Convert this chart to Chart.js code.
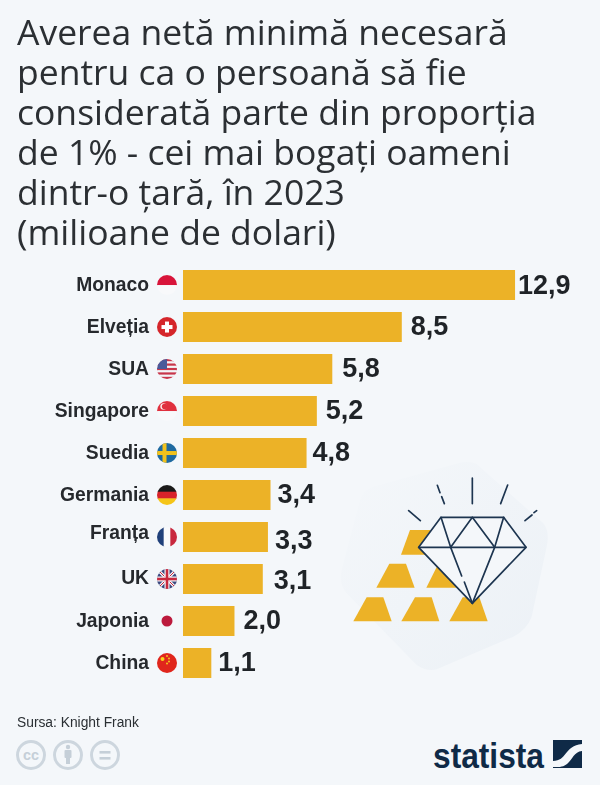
<!DOCTYPE html>
<html lang="ro"><head><meta charset="utf-8">
<style>
html,body{margin:0;padding:0;background:#f4f7fa;width:600px;height:785px;overflow:hidden;font-family:"Liberation Sans",Arial,sans-serif}
#art,#c{position:absolute;left:0;top:0}
#src{position:absolute;left:17px;top:715px;font-size:13.8px;color:#2a2f33}
</style></head><body>
<svg id="art" width="600" height="785" viewBox="0 0 600 785">
<defs><linearGradient id="b" x1="0" y1="0" x2="1" y2="1"><stop offset="0" stop-color="#f4f7fa"/><stop offset="1" stop-color="#ecf1f6"/></linearGradient></defs>
<g transform="translate(330 460) scale(.33333)">
<path d="M440 12 L640 190 Q660 215 650 260 L605 470 Q590 510 550 530 L320 628 Q290 635 260 615 L50 400 Q25 370 35 330 L90 120 Q100 90 130 80 L390 8 Q420 2 440 12Z" fill="url(#b)"/>
<g fill="#ecb227">
<path d="M70 484L110 412H160L185 484Z"/><path d="M214 484L255 412H305L328 484Z"/><path d="M358 484L398 412H448L473 484Z"/>
<path d="M139 383L178 311H228L254 383Z"/><path d="M289 383L325 311H375L400 383Z"/>
<path d="M213 284L240 210H300L325 284Z"/></g>
<path d="M333 172H521L588 262L427 430L266 262Z" fill="#f4f7fa"/>
<g fill="none" stroke="#1d3550" stroke-width="5" stroke-linejoin="round" stroke-linecap="round">
<path d="M333 172H521L588 262L427 430L266 262Z"/><path d="M266 262H588"/>
<path d="M333 172L362 262L395 348M403 366L427 430"/><path d="M521 172L494 262L427 430"/>
<path d="M427 172L362 262M427 172L494 262"/>
<path d="M427 54V131M322 76L330 98M335 110L343 131M533 75L512 131M236 152L271 182M585 182L606 165M612 158L620 152"/>
</g></g>
<g fill="none" stroke="#cdd6de" stroke-width="3"><circle cx="31" cy="755" r="13.5"/><circle cx="68" cy="755" r="13.5"/><circle cx="105" cy="755" r="13.5"/></g>
<text x="31" y="760" text-anchor="middle" font-size="15" font-weight="700" fill="#c5cfd8" font-family="Liberation Sans" textLength="16" lengthAdjust="spacingAndGlyphs">cc</text>
<g fill="#c5cfd8"><circle cx="68" cy="747" r="2.2"/><rect x="64.5" y="750" width="7" height="8" rx="1"/><rect x="66" y="757" width="4" height="7"/><rect x="99.5" y="751" width="11" height="2.6"/><rect x="99.5" y="757" width="11" height="2.6"/></g>
<text x="433" y="768" font-size="35" font-weight="700" fill="#0f2a47" font-family="Liberation Sans Narrow, Liberation Sans" textLength="111" lengthAdjust="spacingAndGlyphs">statista</text>
<rect x="553" y="740" width="29" height="28" fill="#0f2a47"/>
<path d="M553 761C567 761 564 746 582 744V751C571 752 572 767 558 767H553Z" fill="#f4f7fa"/>
</svg>
<canvas id="c" width="600" height="785"></canvas>
<div id="src">Sursa: Knight Frank</div>
<script src="https://cdn.jsdelivr.net/npm/chart.js@4"></script>
<script>
const countries=["Monaco","Elveția","SUA","Singapore","Suedia","Germania","Franța","UK","Japonia","China"];
const wealthThreshold=[12.9,8.5,5.8,5.2,4.8,3.4,3.3,3.1,2.0,1.1];
const titleLines=["Averea netă minimă necesară","pentru ca o persoană să fie","considerată parte din proporția","de 1% - cei mai bogați oameni","dintr-o țară, în 2023","(milioane de dolari)"];
const valueNudgeX=[-5,1,2,1,-2,-1,-1,3,1,-1];
const valueNudgeY=[0,0,0,0,0,0,4,2,0,0];
const labelNudgeY=[1,1,1,1,1,1,-3,0,1,1];

function band(ctx,x,y,r,cols,vert){
  const n=cols.length;
  cols.forEach((col,i)=>{ctx.fillStyle=col;
    if(vert)ctx.fillRect(x-r+2*r*i/n,y-r,2*r/n+.5,2*r);
    else ctx.fillRect(x-r,y-r+2*r*i/n,2*r,2*r/n+.5);});
}
const flags={
 Monaco(c,x,y,r){band(c,x,y,r,["#d8143a","#f8f9fb"]);},
 "Elveția"(c,x,y,r){c.fillStyle="#d5262b";c.fillRect(x-r,y-r,2*r,2*r);c.fillStyle="#fff";c.fillRect(x-5.5,y-2,11,4);c.fillRect(x-2,y-5.5,4,11);},
 SUA(c,x,y,r){const s=[];for(let i=0;i<9;i++)s.push(i%2?"#f3f4f7":"#c8354a");band(c,x,y,r,s);c.fillStyle="#4a5a9a";c.fillRect(x-r,y-r,r,r);},
 Singapore(c,x,y,r){band(c,x,y,r,["#e0303e","#f8f9fb"]);c.fillStyle="#fbe8e8";c.beginPath();c.arc(x-3.5,y-4.5,3.2,0,7);c.fill();c.fillStyle="#e0303e";c.beginPath();c.arc(x-2.3,y-4.5,2.8,0,7);c.fill();},
 Suedia(c,x,y,r){c.fillStyle="#1f6aa0";c.fillRect(x-r,y-r,2*r,2*r);c.fillStyle="#f2c21d";c.fillRect(x-r,y-2,2*r,4);c.fillRect(x-4.5,y-r,4,2*r);},
 Germania(c,x,y,r){band(c,x,y,r,["#1a1a1a","#d8232a","#f5c518"]);},
 "Franța"(c,x,y,r){band(c,x,y,r,["#20407a","#f8f9fb","#c8283e"],true);},
 UK(c,x,y,r){c.fillStyle="#3c4a80";c.fillRect(x-r,y-r,2*r,2*r);c.lineWidth=3;c.strokeStyle="#f4f5f8";c.beginPath();c.moveTo(x-r,y-r);c.lineTo(x+r,y+r);c.moveTo(x+r,y-r);c.lineTo(x-r,y+r);c.stroke();c.lineWidth=1;c.strokeStyle="#c8283e";c.stroke();c.fillStyle="#f4f5f8";c.fillRect(x-r,y-2.5,2*r,5);c.fillRect(x-2.5,y-r,5,2*r);c.fillStyle="#c8283e";c.fillRect(x-r,y-1.3,2*r,2.6);c.fillRect(x-1.3,y-r,2.6,2*r);},
 Japonia(c,x,y,r){c.fillStyle="#f4f7fa";c.fillRect(x-r,y-r,2*r,2*r);c.fillStyle="#bc1a3c";c.beginPath();c.arc(x,y,5.5,0,7);c.fill();},
 China(c,x,y,r){c.fillStyle="#e0261c";c.fillRect(x-r,y-r,2*r,2*r);c.fillStyle="#f7d51d";[[-4.5,-4,2],[0,-7,.9],[2,-4.5,.9],[2,-1.5,.9],[0,.5,.9]].forEach(p=>{c.beginPath();c.arc(x+p[0],y+p[1],p[2],0,7);c.fill();});}
};
const decor={id:"decor",
 beforeDraw(chart){
  const sc=chart.scales.y,items=sc.getLabelItems();
  if(!sc._nudged){items.forEach((it,i)=>{it.options.translation[1]+=labelNudgeY[i];});sc._nudged=true;}
 },
 afterDatasetsDraw(chart){
  const c=chart.ctx,sc=chart.scales.y,meta=chart.getDatasetMeta(0);
  countries.forEach((n,i)=>{
    const y=sc.getPixelForValue(i);
    c.save();c.beginPath();c.arc(167,y,10,0,7);c.clip();flags[n](c,167,y,10);c.restore();
  });
  c.save();c.font="700 27px 'Liberation Sans'";c.fillStyle="#1f2327";c.textBaseline="middle";c.textAlign="left";
  meta.data.forEach((b,i)=>{c.fillText(wealthThreshold[i].toFixed(1).replace(".",","),b.x+8+valueNudgeX[i],b.y+1+valueNudgeY[i]);});
  c.restore();
 }};
Chart.defaults.font.family="'Liberation Sans'";
new Chart(document.getElementById("c"),{type:"bar",
 data:{labels:countries,datasets:[{data:wealthThreshold,backgroundColor:"#ecb227",barPercentage:30/42,categoryPercentage:1,borderWidth:0}]},
 options:{indexAxis:"y",responsive:false,animation:false,devicePixelRatio:1,
  layout:{padding:{left:17,top:15,right:0,bottom:101}},
  plugins:{legend:{display:false},tooltip:{enabled:false},
   title:{display:true,text:titleLines,align:"start",color:"#2b2f33",font:{family:"'Open Sans'",size:35.5,weight:"400",lineHeight:1.127},padding:{top:0,bottom:9}}},
  scales:{
   x:{display:false,min:0,max:16.2},
   y:{grid:{display:false},border:{display:false},
      afterFit(s){s.width=166;},
      ticks:{color:"#26292d",font:{size:19.3,weight:"700"},padding:26,autoSkip:false}}
  }},
 plugins:[decor]});
</script></body></html>
